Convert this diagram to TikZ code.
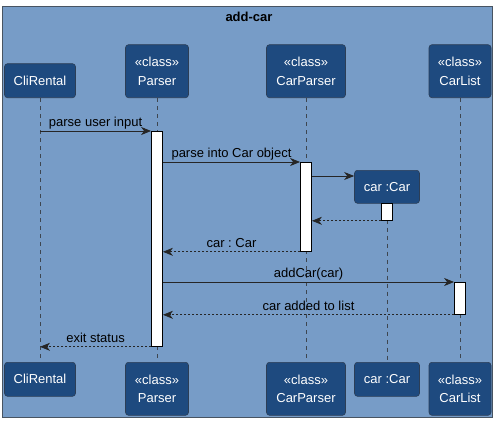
\documentclass[tikz,border=0pt]{standalone}
\usepackage{fontspec}
\setmainfont{Liberation Sans}
\frenchspacing
\usetikzlibrary{arrows.meta, positioning}

\definecolor{framefill}{RGB}{119,156,199}
\definecolor{framedraw}{RGB}{72,84,98}
\definecolor{boxfill}{RGB}{30,74,127}
\definecolor{boxdraw}{RGB}{44,62,86}
\definecolor{lifegray}{RGB}{62,70,80}

\begin{document}
\begin{tikzpicture}[x=1pt,y=-1pt,font=\fontsize{13}{18.5}\selectfont,
	>={Stealth[length=10pt,width=8pt,inset=3pt]},line width=0.8pt]

		\tikzset{obj/.style={rounded corners=3pt, draw=boxdraw,
				fill=boxfill, text=white, align=center,
				inner sep=0pt, line width=0.6pt}}
		\tikzset{act/.style={draw=black, fill=white,
				minimum width=11pt, inner sep=0pt, anchor=north}}
		\tikzset{life/.style={draw=lifegray, dash pattern=on 4pt off 4pt}}
		\tikzset{call/.style={->, draw=black!85}}
		\tikzset{ret/.style={->, draw=black!85, dash pattern=on 2pt off 2pt}}
		\tikzset{lbl/.style={above, inner sep=1pt, text depth=3pt, text=black}}

	\useasboundingbox (0,0) rectangle (499,423);
	\draw[framedraw, fill=framefill] (2,6) rectangle (492,417);
	\node[font=\fontsize{13}{16}\selectfont\bfseries] (title) at (249,17) {add-car};

	% top row
	\node[obj, minimum width=71pt, minimum height=34pt, anchor=south] (cli) at (40,98) {CliRental};
	\node[obj, minimum width=63pt, minimum height=53pt, anchor=south] (parser) at (157,98) {«class»\\Parser};
	\node[obj, minimum width=79pt, minimum height=53pt, anchor=south] (carparser) at (306,98) {«class»\\CarParser};
	\node[obj, minimum width=62pt, minimum height=53pt, anchor=south] (carlist) at (460,98) {«class»\\CarList};
	\node[obj, minimum width=65pt, minimum height=33pt, anchor=north] (car) at (387,170) {car :Car};

	% bottom row
	\node[obj, minimum width=71pt, minimum height=34pt, anchor=north] (cliB) at (40,362) {CliRental};
	\node[obj, minimum width=63pt, minimum height=53pt, anchor=north] (parserB) at (157,362) {«class»\\Parser};
	\node[obj, minimum width=79pt, minimum height=53pt, anchor=north] (carparserB) at (306,362) {«class»\\CarParser};
	\node[obj, minimum width=65pt, minimum height=34pt, anchor=north] (carB) at (387,362) {car :Car};
	\node[obj, minimum width=62pt, minimum height=53pt, anchor=north] (carlistB) at (460,362) {«class»\\CarList};

	\draw[life] (cli) -- (cliB);
	\draw[life] (parser) -- (parserB);
	\draw[life] (carparser) -- (carparserB);
	\draw[life] (car) -- (carB);
	\draw[life] (carlist) -- (carlistB);

	% activations
	\node[act, minimum height=215pt] (actP) at (157,131) {};
	\node[act, minimum height=89pt] (actCP) at (306,162) {};
	\node[act, minimum height=17pt] (actC) at (387,203) {};
	\node[act, minimum height=32pt] (actL) at (460,282) {};

	\coordinate (new) at (car.west |- 0,176);

	\draw[call] (cli |- actP.north) -- node[lbl]{parse user input} (actP.north west);
	\draw[call] (actP.east |- actCP.north) -- node[lbl]{parse into Car object} (actCP.north west);
	\draw[call] (actCP.east |- new) -- (new);
	\draw[ret] (actC.south west) -- (actCP.east |- actC.south);
	\draw[ret] (actCP.south west) -- node[lbl]{car : Car} (actP.east |- actCP.south);
	\draw[call] (actP.east |- actL.north) -- node[lbl]{addCar(car)} (actL.north west);
	\draw[ret] (actL.south west) -- node[lbl]{car added to list} (actP.east |- actL.south);
	\draw[ret] (actP.south west) -- node[lbl]{exit status} (cli |- actP.south);
	\end{tikzpicture}
\end{document}
